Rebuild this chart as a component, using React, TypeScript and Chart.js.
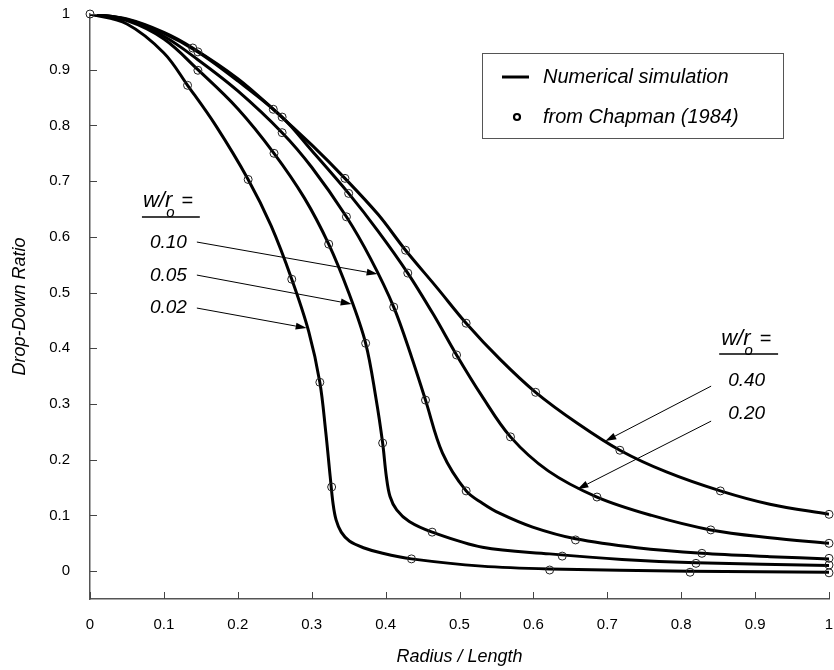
import React, { useEffect, useRef } from 'react';
import { Chart, registerables } from 'chart.js';

Chart.register(...registerables);

const FONT = '"Liberation Sans", Arial, Helvetica, sans-serif';

// ---- axes ----
const xTickValues = [0, 0.1, 0.2, 0.3, 0.4, 0.5, 0.6, 0.7, 0.8, 0.9, 1];
const xTickLabels = ['0', '0.1', '0.2', '0.3', '0.4', '0.5', '0.6', '0.7', '0.8', '0.9', '1'];
const yTickValues = [0, 0.1, 0.2, 0.3, 0.4, 0.5, 0.6, 0.7, 0.8, 0.9, 1];
const yTickLabels = ['0', '0.1', '0.2', '0.3', '0.4', '0.5', '0.6', '0.7', '0.8', '0.9', '1'];

// ---- numerical simulation curves (w/r_o) ----
const seriesNames = ['0.02', '0.05', '0.10', '0.20', '0.40'];

const sim002X = [0, 0.05, 0.1, 0.132, 0.17, 0.214, 0.245, 0.273, 0.296, 0.311, 0.319, 0.325, 0.329, 0.333, 0.34, 0.351, 0.37, 0.396, 0.435, 0.53, 0.622, 0.812, 1];
const sim002Y = [1, 0.982, 0.93, 0.872, 0.8, 0.703, 0.62, 0.524, 0.43, 0.339, 0.25, 0.17, 0.12, 0.092, 0.07, 0.054, 0.042, 0.032, 0.022, 0.009, 0.004, 0.0, -0.002];

const sim005X = [0, 0.05, 0.1, 0.146, 0.2, 0.249, 0.29, 0.323, 0.35, 0.373, 0.387, 0.396, 0.401, 0.406, 0.415, 0.432, 0.463, 0.531, 0.622, 0.72, 0.82, 1];
const sim005Y = [1, 0.988, 0.955, 0.9, 0.83, 0.75, 0.67, 0.587, 0.5, 0.409, 0.31, 0.23, 0.17, 0.134, 0.11, 0.089, 0.07, 0.043, 0.031, 0.021, 0.015, 0.01];

const sim010X = [0, 0.05, 0.1, 0.146, 0.2, 0.26, 0.3, 0.347, 0.38, 0.411, 0.435, 0.454, 0.477, 0.509, 0.531, 0.554, 0.599, 0.657, 0.74, 0.828, 0.92, 1];
const sim010Y = [1, 0.99, 0.96, 0.918, 0.862, 0.787, 0.725, 0.636, 0.56, 0.474, 0.385, 0.307, 0.212, 0.144, 0.122, 0.104, 0.079, 0.058, 0.042, 0.032, 0.026, 0.022];

const sim020X = [0, 0.05, 0.1, 0.146, 0.2, 0.26, 0.3, 0.35, 0.39, 0.43, 0.465, 0.496, 0.53, 0.569, 0.62, 0.686, 0.76, 0.84, 0.92, 1];
const sim020Y = [1, 0.99, 0.965, 0.932, 0.88, 0.815, 0.755, 0.678, 0.61, 0.535, 0.46, 0.388, 0.315, 0.241, 0.18, 0.133, 0.1, 0.074, 0.06, 0.05];

const sim040X = [0, 0.05, 0.1, 0.139, 0.2, 0.248, 0.3, 0.345, 0.39, 0.427, 0.47, 0.509, 0.555, 0.603, 0.66, 0.717, 0.78, 0.853, 0.92, 1];
const sim040Y = [1, 0.991, 0.967, 0.939, 0.884, 0.829, 0.765, 0.705, 0.64, 0.576, 0.508, 0.445, 0.38, 0.321, 0.265, 0.217, 0.178, 0.144, 0.12, 0.102];

// ---- Chapman (1984) points ----
const chap002X = [0.132, 0.214, 0.273, 0.311, 0.327, 0.435, 0.622, 0.812, 1];
const chap002Y = [0.872, 0.703, 0.524, 0.339, 0.151, 0.022, 0.002, -0.002, -0.003];
const chap005X = [0.146, 0.249, 0.323, 0.373, 0.396, 0.463, 0.639, 0.82, 1];
const chap005Y = [0.899, 0.75, 0.587, 0.409, 0.23, 0.07, 0.027, 0.014, 0.011];
const chap010X = [0.26, 0.347, 0.411, 0.454, 0.509, 0.657, 0.828, 1];
const chap010Y = [0.787, 0.636, 0.474, 0.307, 0.144, 0.056, 0.032, 0.023];
const chap020X = [0.146, 0.26, 0.35, 0.43, 0.496, 0.569, 0.686, 0.84, 1];
const chap020Y = [0.932, 0.815, 0.678, 0.535, 0.388, 0.241, 0.133, 0.074, 0.05];
const chap040X = [0, 0.139, 0.248, 0.345, 0.427, 0.509, 0.603, 0.717, 0.853, 1];
const chap040Y = [1, 0.939, 0.829, 0.705, 0.576, 0.445, 0.321, 0.217, 0.144, 0.102];

const simXs = [sim002X, sim005X, sim010X, sim020X, sim040X];
const simYs = [sim002Y, sim005Y, sim010Y, sim020Y, sim040Y];
const chapXs = [chap002X, chap005X, chap010X, chap020X, chap040X];
const chapYs = [chap002Y, chap005Y, chap010Y, chap020Y, chap040Y];

// ---- annotation anchors (data units) ----
const leftHeader = { x: 0.0716, y: 0.6535, ulX1: 0.0703, ulX2: 0.1486, ulY: 0.6355 };
const leftLabels = ['0.10', '0.05', '0.02'];
const leftLabelPos = [[0.0811, 0.5889], [0.0811, 0.5296], [0.0811, 0.4722]];
const leftArrowStart = [[0.1446, 0.5907], [0.1446, 0.5314], [0.1446, 0.4722]];
const leftArrowTip = [[0.3892, 0.5332], [0.3541, 0.4794], [0.2932, 0.4363]];

const rightHeader = { x: 0.8541, y: 0.4057, ulX1: 0.8514, ulX2: 0.9311, ulY: 0.3896 };
const rightLabels = ['0.40', '0.20'];
const rightLabelPos = [[0.8635, 0.3411], [0.8635, 0.2819]];
const rightArrowStart = [[0.8405, 0.3321], [0.8405, 0.2693]];
const rightArrowTip = [[0.6973, 0.2334], [0.6595, 0.1472]];

const legendLabels = ['Numerical simulation', 'from Chapman (1984)'];

function drawArrow(ctx: CanvasRenderingContext2D, x1: number, y1: number, x2: number, y2: number) {
  const ang = Math.atan2(y2 - y1, x2 - x1);
  const len = 11;
  const hw = 3.5;
  const bx = x2 - len * Math.cos(ang);
  const by = y2 - len * Math.sin(ang);
  ctx.beginPath();
  ctx.moveTo(x1, y1);
  ctx.lineTo(bx, by);
  ctx.lineWidth = 1;
  ctx.strokeStyle = '#000';
  ctx.stroke();
  ctx.beginPath();
  ctx.moveTo(x2, y2);
  ctx.lineTo(bx + hw * Math.sin(ang), by - hw * Math.cos(ang));
  ctx.lineTo(bx - hw * Math.sin(ang), by + hw * Math.cos(ang));
  ctx.closePath();
  ctx.fillStyle = '#000';
  ctx.fill();
}

function drawHeader(ctx: CanvasRenderingContext2D, x: number, y: number) {
  ctx.fillStyle = '#000';
  ctx.textAlign = 'left';
  ctx.textBaseline = 'alphabetic';
  ctx.font = `italic 22px ${FONT}`;
  ctx.fillText('w/r', x, y);
  const w = ctx.measureText('w/r').width;
  ctx.font = `italic 15px ${FONT}`;
  ctx.fillText('o', x + w - 6, y + 10);
  ctx.font = `italic 20px ${FONT}`;
  ctx.fillText('=', x + w + 9, y);
}

const decorPlugin = {
  id: 'decor',
  afterDraw(chart: any) {
    const { ctx, chartArea } = chart;
    const xs = chart.scales.x;
    const ys = chart.scales.y;
    const px = (v: number) => xs.getPixelForValue(v);
    const py = (v: number) => ys.getPixelForValue(v);
    ctx.save();

    // inward tick marks
    ctx.strokeStyle = '#444';
    ctx.lineWidth = 1;
    xTickValues.forEach((v) => {
      const x = Math.round(px(v)) + 0.5;
      ctx.beginPath();
      ctx.moveTo(x, chartArea.bottom);
      ctx.lineTo(x, chartArea.bottom - 7);
      ctx.stroke();
    });
    yTickValues.forEach((v) => {
      const y = Math.round(py(v)) + 0.5;
      ctx.beginPath();
      ctx.moveTo(chartArea.left, y);
      ctx.lineTo(chartArea.left + 7, y);
      ctx.stroke();
    });

    // left annotation group
    drawHeader(ctx, px(leftHeader.x), py(leftHeader.y));
    ctx.beginPath();
    ctx.moveTo(px(leftHeader.ulX1), py(leftHeader.ulY));
    ctx.lineTo(px(leftHeader.ulX2), py(leftHeader.ulY));
    ctx.lineWidth = 1.5;
    ctx.strokeStyle = '#000';
    ctx.stroke();
    ctx.font = `italic 19px ${FONT}`;
    ctx.textBaseline = 'middle';
    ctx.textAlign = 'left';
    leftLabels.forEach((t, i) => {
      ctx.fillStyle = '#000';
      ctx.fillText(t, px(leftLabelPos[i][0]), py(leftLabelPos[i][1]));
      drawArrow(ctx, px(leftArrowStart[i][0]), py(leftArrowStart[i][1]), px(leftArrowTip[i][0]), py(leftArrowTip[i][1]));
    });

    // right annotation group
    drawHeader(ctx, px(rightHeader.x), py(rightHeader.y));
    ctx.beginPath();
    ctx.moveTo(px(rightHeader.ulX1), py(rightHeader.ulY));
    ctx.lineTo(px(rightHeader.ulX2), py(rightHeader.ulY));
    ctx.lineWidth = 1.5;
    ctx.strokeStyle = '#000';
    ctx.stroke();
    ctx.font = `italic 19px ${FONT}`;
    ctx.textBaseline = 'middle';
    ctx.textAlign = 'left';
    rightLabels.forEach((t, i) => {
      ctx.fillStyle = '#000';
      ctx.fillText(t, px(rightLabelPos[i][0]), py(rightLabelPos[i][1]));
      drawArrow(ctx, px(rightArrowStart[i][0]), py(rightArrowStart[i][1]), px(rightArrowTip[i][0]), py(rightArrowTip[i][1]));
    });

    // legend box
    const bx = 482.5, by = 53.5, bw = 301, bh = 85;
    ctx.fillStyle = '#fff';
    ctx.fillRect(bx, by, bw, bh);
    ctx.strokeStyle = '#555';
    ctx.lineWidth = 1;
    ctx.strokeRect(bx, by, bw, bh);
    ctx.beginPath();
    ctx.moveTo(502, 77);
    ctx.lineTo(529, 77);
    ctx.lineWidth = 3;
    ctx.strokeStyle = '#000';
    ctx.stroke();
    ctx.beginPath();
    ctx.arc(517, 117, 3, 0, Math.PI * 2);
    ctx.lineWidth = 2.2;
    ctx.stroke();
    ctx.fillStyle = '#000';
    ctx.font = `italic 20px ${FONT}`;
    ctx.textAlign = 'left';
    ctx.textBaseline = 'middle';
    ctx.fillText(legendLabels[0], 543, 77);
    ctx.fillText(legendLabels[1], 543, 117);

    ctx.restore();
  },
};

function zeroPad(s: any) {
  s.paddingTop = 0;
  s.paddingBottom = 0;
  s.paddingLeft = 0;
  s.paddingRight = 0;
}

export default function App() {
  const ref = useRef<HTMLCanvasElement | null>(null);

  useEffect(() => {
    if (!ref.current) return;
    const lineSets = seriesNames.map((name, i) => ({
      label: 'sim ' + name,
      data: simXs[i].map((x, j) => ({ x, y: simYs[i][j] })),
      showLine: true,
      borderColor: '#000',
      borderWidth: 3,
      pointRadius: 0,
      tension: 0.35,
      borderJoinStyle: 'round' as const,
      fill: false,
      order: 2,
    }));
    const pointSets = seriesNames.map((name, i) => ({
      label: 'chap ' + name,
      data: chapXs[i].map((x, j) => ({ x, y: chapYs[i][j] })),
      showLine: false,
      pointRadius: 4,
      pointBorderWidth: 1,
      pointBorderColor: '#222',
      pointBackgroundColor: 'rgba(0,0,0,0)',
      clip: false,
      order: 1,
    }));

    const chart = new Chart(ref.current, {
      type: 'scatter',
      data: { datasets: [...lineSets, ...pointSets] as any },
      options: {
        animation: false,
        responsive: false,
        devicePixelRatio: 1,
        layout: { padding: { top: 14, right: 4, left: 0, bottom: 0 } },
        plugins: {
          legend: { display: false },
          tooltip: { enabled: false },
        },
        scales: {
          x: {
            type: 'linear',
            min: 0,
            max: 1,
            afterFit: (s: any) => { s.height = 71; zeroPad(s); },
            afterBuildTicks: (s: any) => { s.ticks = xTickValues.map((v) => ({ value: v })); },
            grid: { display: false, drawTicks: false },
            border: { display: true, color: '#555', width: 1.5 },
            ticks: {
              padding: 17,
              color: '#000',
              font: { family: FONT, size: 15 },
              maxRotation: 0,
              autoSkip: false,
              callback: (_v: any, i: number) => xTickLabels[i],
            },
            title: {
              display: true,
              text: 'Radius / Length',
              color: '#000',
              font: { family: FONT, size: 18, style: 'italic' },
              padding: { top: 0, bottom: 2 },
            },
          },
          y: {
            type: 'linear',
            min: -0.05,
            max: 1,
            afterFit: (s: any) => { s.width = 90; zeroPad(s); },
            afterBuildTicks: (s: any) => { s.ticks = yTickValues.map((v) => ({ value: v })); },
            grid: { display: false, drawTicks: false },
            border: { display: true, color: '#555', width: 1.5 },
            ticks: {
              padding: 20,
              color: '#000',
              font: { family: FONT, size: 15 },
              autoSkip: false,
              callback: (_v: any, i: number) => yTickLabels[i],
            },
            title: {
              display: true,
              text: 'Drop-Down Ratio',
              color: '#000',
              font: { family: FONT, size: 18, style: 'italic' },
              padding: { top: 9, bottom: 0 },
            },
          },
        },
      },
      plugins: [decorPlugin],
    });
    return () => chart.destroy();
  }, []);

  return (
    <div style={{ position: 'absolute', left: 0, top: 0, width: 834, height: 670, background: '#fff' }}>
      <canvas ref={ref} width={834} height={670} style={{ width: 834, height: 670, display: 'block' }} />
    </div>
  );
}
